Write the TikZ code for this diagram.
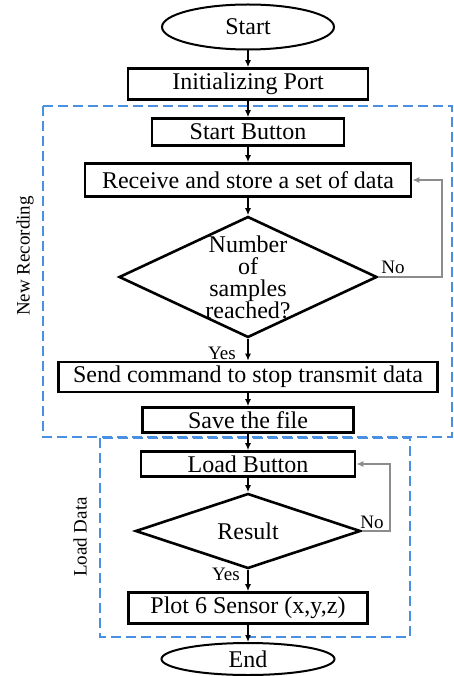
\documentclass[tikz,border=0pt]{standalone}
\usepackage{fontspec}
\setmainfont{Liberation Serif}
\usetikzlibrary{shapes.geometric, arrows.meta}
\definecolor{groupblue}{RGB}{74,144,226}
\definecolor{loopgray}{RGB}{140,140,140}

\begin{document}
\begin{tikzpicture}[x=1pt, y=-1pt,
	proc/.style={draw, line width=2.6pt, inner sep=1pt, font=\fontsize{24}{24}\selectfont},
	term/.style={draw, ellipse, line width=2pt, inner sep=0pt, font=\fontsize{24}{24}\selectfont},
	decide/.style={draw, diamond, line width=2.6pt, inner sep=-4pt, align=center, font=\fontsize{24}{22}\selectfont},
	lbl/.style={inner sep=0pt, font=\fontsize{19}{19}\selectfont},
	group/.style={draw=groupblue, line width=2.4pt, dash pattern=on 10pt off 5pt},
	flow/.style={line width=1.3pt, -{Latex[length=7pt, width=6pt]}},
	back/.style={draw=loopgray, line width=1.6pt, -{Latex[length=7pt, width=6pt]}}]
				\useasboundingbox (0,0) rectangle (454,676);

				% Groups
				\draw[group] (43,106) rectangle (452,437);
				\draw[group] (100,438) rectangle (410,637);
				\node[lbl, rotate=90] (newrec) at (25,256) {New Recording};
				\node[lbl, rotate=90] (loaddata) at (80,537) {Load Data};

				% Nodes
				\node[term, minimum width=172pt, minimum height=45pt] (start) at (248,27) {Start};
				\node[proc, minimum width=240pt, minimum height=31pt] (init) at (248,84) {Initializing Port};
				\node[proc, minimum width=192pt, minimum height=27pt] (startbtn) at (248,132) {Start Button};
				\node[proc, minimum width=326pt, minimum height=33pt] (receive) at (248,180) {Receive and store a set of data};
				\node[decide, shape aspect=2.13, minimum width=258pt, minimum height=121pt] (samples) at (248,277) {Number\\of\\samples\\reached?};
				\node[proc, minimum width=379pt, minimum height=30pt] (send) at (248,377) {Send command to stop transmit data};
				\node[proc, minimum width=211pt, minimum height=25pt] (save) at (248,420) {Save the file};
				\node[proc, minimum width=214pt, minimum height=25pt] (loadbtn) at (248,464) {Load Button};
				\node[decide, shape aspect=3, minimum width=225pt, minimum height=75pt] (result) at (248,531) {Result};
				\node[proc, minimum width=239pt, minimum height=31pt] (plot) at (248,608) {Plot 6 Sensor (x,y,z)};
				\node[term, minimum width=173pt, minimum height=32pt] (end) at (248,659) {End};

				% Loop corners
				\coordinate (samplesloop) at (442,277);
				\coordinate (resultloop) at (390,531);

				% Edges
				\draw[flow] (start) -- (init);
				\draw[flow] (init) -- (startbtn);
				\draw[flow] (startbtn) -- (receive);
				\draw[flow] (receive) -- (samples);
				\draw[flow] (samples) -- (send);
				\draw[back] (samples.east) -- (samplesloop) |- (receive.east);
				\draw[flow] (send) -- (save);
				\draw[flow] (save) -- (loadbtn);
				\draw[flow] (loadbtn) -- (result);
				\draw[flow] (result) -- (plot);
				\draw[back] (result.east) -- (resultloop) |- (loadbtn.east);
				\draw[flow] (plot) -- (end);

				% Labels
				\node[lbl] (samplesyes) at (222,353) {Yes};
				\node[lbl] (samplesno) at (393,267) {No};
				\node[lbl] (resultyes) at (226,574) {Yes};
				\node[lbl] (resultno) at (372,522) {No};
			\end{tikzpicture}
\end{document}
